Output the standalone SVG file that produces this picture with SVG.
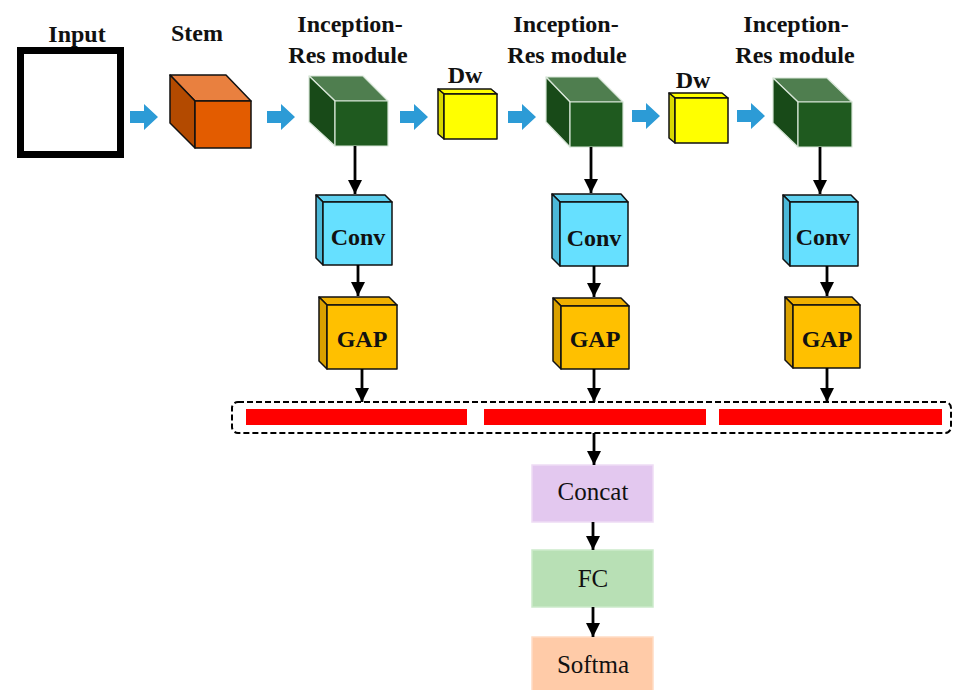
<svg xmlns="http://www.w3.org/2000/svg" width="953" height="690" viewBox="0 0 953 690">
<style>
.lbl{font-family:"Liberation Serif","DejaVu Serif",serif;font-size:24px;font-weight:bold;fill:#111;text-anchor:middle}
.clbl{font-family:"Liberation Serif","DejaVu Serif",serif;font-size:24px;font-weight:bold;fill:#111;text-anchor:middle}
.blbl{font-family:"Liberation Serif","DejaVu Serif",serif;font-size:25px;fill:#111;text-anchor:middle}
.conn{stroke:#000;stroke-width:2.8;fill:none;marker-end:url(#ah)}
.barrow{fill:#2C9BD6}
.cubeline{stroke:#111;stroke-width:1.5;stroke-linejoin:round}
.gline{stroke:#d8e6d8;stroke-width:1.2;stroke-linejoin:round}
.red{fill:#FF0000}
</style>
<defs>
<marker id="ah" viewBox="0 0 14 14" refX="14" refY="7" markerWidth="14" markerHeight="14" markerUnits="userSpaceOnUse" orient="auto">
<path d="M0,0 L14,7 L0,14 Z" fill="#000"/>
</marker>
<path id="blue" d="M0,-6 H14 V-13 L28,0 L14,13 V6 H0 Z"/>
</defs>

<g id="input">
<rect x="20.5" y="50.5" width="100" height="104" fill="#fff" stroke="#000" stroke-width="7"/>
<text class="lbl" x="77" y="42">Input</text>
</g>

<g id="stem">
<polygon points="170,75 226,75 251,101 195,101" fill="#E9803F" class="cubeline"/>
<polygon points="170,75 195,101 195,148 170,123" fill="#B34A00" class="cubeline"/>
<rect x="195" y="101" width="56" height="47" fill="#E35C00" class="cubeline"/>
<text class="lbl" x="197" y="41">Stem</text>
</g>

<g id="inception1">
<polygon points="309,76 363,76 388,101 335,101" fill="#4F7E4F" class="gline"/>
<polygon points="309,76 335,101 335,146 309,122" fill="#184A18" class="gline"/>
<rect x="335" y="101" width="53" height="45" fill="#1F5A1F" class="gline"/>
<text class="lbl" x="350" y="32">Inception-</text>
<text class="lbl" x="348" y="63">Res module</text>
</g>

<g id="dw1">
<polygon points="438,89 491,89 497,94 444,94" fill="#FFFF00" class="cubeline"/>
<polygon points="438,89 444,94 444,139 438,134" fill="#D8D800" class="cubeline"/>
<rect x="444" y="94" width="53" height="45" fill="#FFFF00" class="cubeline"/>
<text class="lbl" x="465" y="83">Dw</text>
</g>

<g id="inception2">
<polygon points="546,77 598,77 623,102 570,102" fill="#4F7E4F" class="gline"/>
<polygon points="546,77 570,102 570,147 546,122" fill="#184A18" class="gline"/>
<rect x="570" y="102" width="53" height="45" fill="#1F5A1F" class="gline"/>
<text class="lbl" x="566" y="32">Inception-</text>
<text class="lbl" x="567" y="63">Res module</text>
</g>

<g id="dw2">
<polygon points="669,93 722,93 728,98 675,98" fill="#FFFF00" class="cubeline"/>
<polygon points="669,93 675,98 675,143 669,138" fill="#D8D800" class="cubeline"/>
<rect x="675" y="98" width="53" height="45" fill="#FFFF00" class="cubeline"/>
<text class="lbl" x="693" y="88">Dw</text>
</g>

<g id="inception3">
<polygon points="773,78 827,78 852,102 798,102" fill="#4F7E4F" class="gline"/>
<polygon points="773,78 798,102 798,147 773,123" fill="#184A18" class="gline"/>
<rect x="798" y="102" width="54" height="45" fill="#1F5A1F" class="gline"/>
<text class="lbl" x="796" y="32">Inception-</text>
<text class="lbl" x="795" y="63">Res module</text>
</g>

<g id="conv1">
<polygon points="316,195 385,195 392,202 323,202" fill="#5FD0EE" class="cubeline"/>
<polygon points="316,195 323,202 323,265 316,258" fill="#4CB8D8" class="cubeline"/>
<rect x="323" y="202" width="69" height="63" fill="#66E0FF" class="cubeline"/>
<text class="clbl" x="358" y="245">Conv</text>
</g>
<g id="conv2">
<polygon points="552,194 621,194 628,202 560,202" fill="#5FD0EE" class="cubeline"/>
<polygon points="552,194 560,202 560,266 552,258" fill="#4CB8D8" class="cubeline"/>
<rect x="560" y="202" width="68" height="64" fill="#66E0FF" class="cubeline"/>
<text class="clbl" x="594" y="246">Conv</text>
</g>
<g id="conv3">
<polygon points="783,195 851,195 858,202 790,202" fill="#5FD0EE" class="cubeline"/>
<polygon points="783,195 790,202 790,266 783,259" fill="#4CB8D8" class="cubeline"/>
<rect x="790" y="202" width="68" height="64" fill="#66E0FF" class="cubeline"/>
<text class="clbl" x="823" y="245">Conv</text>
</g>

<g id="gap1">
<polygon points="319,297 389,297 397,305 327,305" fill="#F0B000" class="cubeline"/>
<polygon points="319,297 327,305 327,369 319,361" fill="#D9A000" class="cubeline"/>
<rect x="327" y="305" width="70" height="64" fill="#FFC000" class="cubeline"/>
<text class="clbl" x="362" y="347">GAP</text>
</g>
<g id="gap2">
<polygon points="553,298 621,298 629,306 561,306" fill="#F0B000" class="cubeline"/>
<polygon points="553,298 561,306 561,369 553,361" fill="#D9A000" class="cubeline"/>
<rect x="561" y="306" width="68" height="63" fill="#FFC000" class="cubeline"/>
<text class="clbl" x="595" y="347">GAP</text>
</g>
<g id="gap3">
<polygon points="785,297 852,297 860,305 793,305" fill="#F0B000" class="cubeline"/>
<polygon points="785,297 793,305 793,368 785,360" fill="#D9A000" class="cubeline"/>
<rect x="793" y="305" width="67" height="63" fill="#FFC000" class="cubeline"/>
<text class="clbl" x="827" y="347">GAP</text>
</g>

<g id="features">
<rect x="232" y="402" width="719" height="31" rx="6" fill="none" stroke="#000" stroke-width="2" stroke-dasharray="6,3"/>
<rect class="red" x="246" y="409" width="221" height="16"/>
<rect class="red" x="484" y="409" width="222" height="16"/>
<rect class="red" x="719" y="409" width="223" height="16"/>
</g>

<g id="concat">
<rect x="532" y="465" width="121" height="57" fill="#E3C8EF" stroke="#EEDCF5" stroke-width="1.5"/>
<text class="blbl" x="593" y="500">Concat</text>
</g>
<g id="fc">
<rect x="532" y="550" width="121" height="57" fill="#B8E0B5" stroke="#CBEACA" stroke-width="1.5"/>
<text class="blbl" x="593" y="587">FC</text>
</g>
<g id="softmax">
<rect x="532" y="637" width="121" height="60" fill="#FFCBA8" stroke="#FFDCC4" stroke-width="1.5"/>
<text class="blbl" x="593" y="673">Softma</text>
</g>

<g id="connectors">
<use href="#blue" class="barrow" x="130" y="117"/>
<use href="#blue" class="barrow" x="267" y="117"/>
<use href="#blue" class="barrow" x="400" y="117"/>
<use href="#blue" class="barrow" x="508" y="117"/>
<use href="#blue" class="barrow" x="632" y="116"/>
<use href="#blue" class="barrow" x="737" y="116"/>
<line class="conn" x1="355" y1="146" x2="355" y2="194"/>
<line class="conn" x1="591" y1="147" x2="591" y2="193"/>
<line class="conn" x1="820" y1="147" x2="820" y2="194"/>
<line class="conn" x1="358" y1="265" x2="358" y2="296"/>
<line class="conn" x1="594" y1="266" x2="594" y2="297"/>
<line class="conn" x1="827" y1="266" x2="827" y2="296"/>
<line class="conn" x1="362" y1="369" x2="362" y2="402"/>
<line class="conn" x1="594" y1="369" x2="594" y2="402"/>
<line class="conn" x1="827" y1="368" x2="827" y2="402"/>
<line class="conn" x1="594" y1="433" x2="594" y2="465"/>
<line class="conn" x1="593" y1="522" x2="593" y2="550"/>
<line class="conn" x1="593" y1="607" x2="593" y2="637"/>
</g>
</svg>
